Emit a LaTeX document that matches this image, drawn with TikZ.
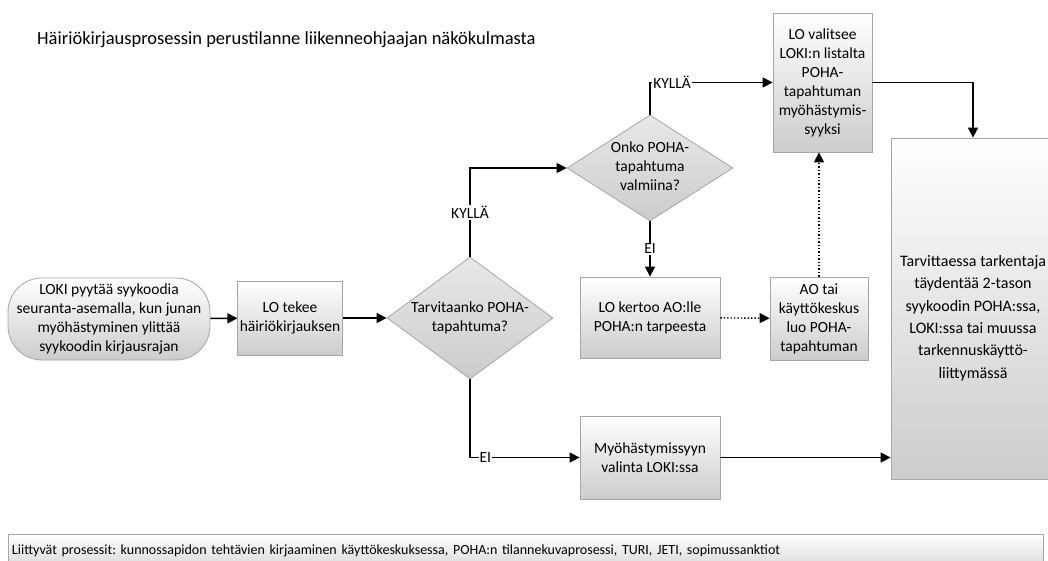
\documentclass[tikz,border=0pt]{standalone}
\usepackage{fontspec}
\setmainfont{Carlito}
\usetikzlibrary{shapes.geometric,arrows.meta}
\begin{document}
\frenchspacing
\begin{tikzpicture}[x=1pt,y=-1pt,
  txt/.style={font=\fontsize{15.5}{19}\selectfont},
  procbox/.style={txt, draw=black!35, line width=0.8pt, top color=white, bottom color=black!20,
    align=center, inner sep=2pt},
  decision/.style={txt, diamond, draw=black!35, line width=0.8pt, top color=black!9, bottom color=black!20,
    inner sep=0pt},
  flow/.style={line width=1.4pt, -{Triangle[length=10pt,width=10pt]}},
  dotflow/.style={flow, dotted},
  lbl/.style={txt, fill=white, inner sep=1pt}
]
\useasboundingbox (0,0) rectangle (1048,561);
\fill[white] (0,0) rectangle (1048,561);

% heading
\node[font=\fontsize{18.5}{22}\selectfont, anchor=base west, inner sep=0pt] (title) at (37,45)
  {Häiriökirjausprosessin perustilanne liikenneohjaajan näkökulmasta};

% start of the process
\node[procbox, rounded corners=34pt, minimum width=202pt, minimum height=82pt] (start) at (109,319)
  {LOKI pyytää syykoodia\\seuranta-asemalla, kun junan\\myöhästyminen ylittää\\syykoodin kirjausrajan};

\node[procbox, minimum width=96pt, minimum height=74pt] (tekee) at (290,318)
  {LO tekee\\häiriökirjauksen};

\node[decision, minimum width=166pt, minimum height=122pt] (d1) at (470,318)
  {\makebox[0pt]{\begin{tabular}{@{}c@{}}Tarvitaanko POHA-\\tapahtuma?\end{tabular}}};

\node[decision, minimum width=166pt, minimum height=106pt] (d2) at (650,168)
  {\makebox[0pt]{\begin{tabular}{@{}c@{}}Onko POHA-\\tapahtuma\\valmiina?\end{tabular}}};

\node[procbox, minimum width=99pt, minimum height=139pt] (valitsee) at (822.5,82.5)
  {LO valitsee\\LOKI:n listalta\\POHA-\\tapahtuman\\myöhästymis-\\syyksi};

\node[procbox, minimum width=140pt, minimum height=81pt] (kertoo) at (650,317.5)
  {LO kertoo AO:lle\\POHA:n tarpeesta};

\node[procbox, minimum width=98pt, minimum height=83pt] (ao) at (819,318.5)
  {AO tai\\käyttökeskus\\luo POHA-\\tapahtuman};

\node[procbox, minimum width=140pt, minimum height=83pt] (valinta) at (650,457.5)
  {Myöhästymissyyn\\valinta LOKI:ssa};

% the refining step runs past the right edge
\node[procbox, minimum width=164pt, minimum height=341pt] (tarkenna) at (973,308.5) {};
\node[font=\fontsize{16}{22.4}\selectfont, align=center, inner sep=0pt] (tarkennateksti) at (973,318)
  {Tarvittaessa tarkentaja\\täydentää 2-tason\\syykoodin POHA:ssa,\\LOKI:ssa tai muussa\\tarkennuskäyttö-\\liittymässä};

% related processes, cut by the lower edge
\node[draw=black!35, line width=0.8pt, top color=white, bottom color=black!15,
  font=\fontsize{14}{16}\selectfont, text width=1027pt, align=left, inner sep=4pt,
  minimum height=34pt] (liittyvat) at (525.5,551)
  {Liittyvät prosessit: kunnossapidon tehtävien kirjaaminen käyttökeskuksessa, POHA:n tilannekuvaprosessi, TURI, JETI, sopimussanktiot};

% connectors
\draw[flow] (start) -- (tekee);
\draw[flow] (tekee) -- (d1);
\draw[flow] (d1.north) |- node[lbl, pos=0.25] {KYLLÄ} (d2.west);
\draw[flow] (d2.north) |- node[lbl, pos=0.59] {KYLLÄ} (valitsee.west);
\draw[flow] (valitsee.east) -| (tarkenna.north);
\draw[flow] (d2.south) -- node[lbl] {EI} (kertoo.north);
\draw[dotflow] (kertoo) -- (ao);
\draw[dotflow] (ao.north) -- (ao.north |- valitsee.south);
\draw[flow] (d1.south) |- node[lbl, pos=0.57] {EI} (valinta.west);
\draw[flow] (valinta.east) -- (valinta.east -| tarkenna.west);
\end{tikzpicture}
\end{document}
